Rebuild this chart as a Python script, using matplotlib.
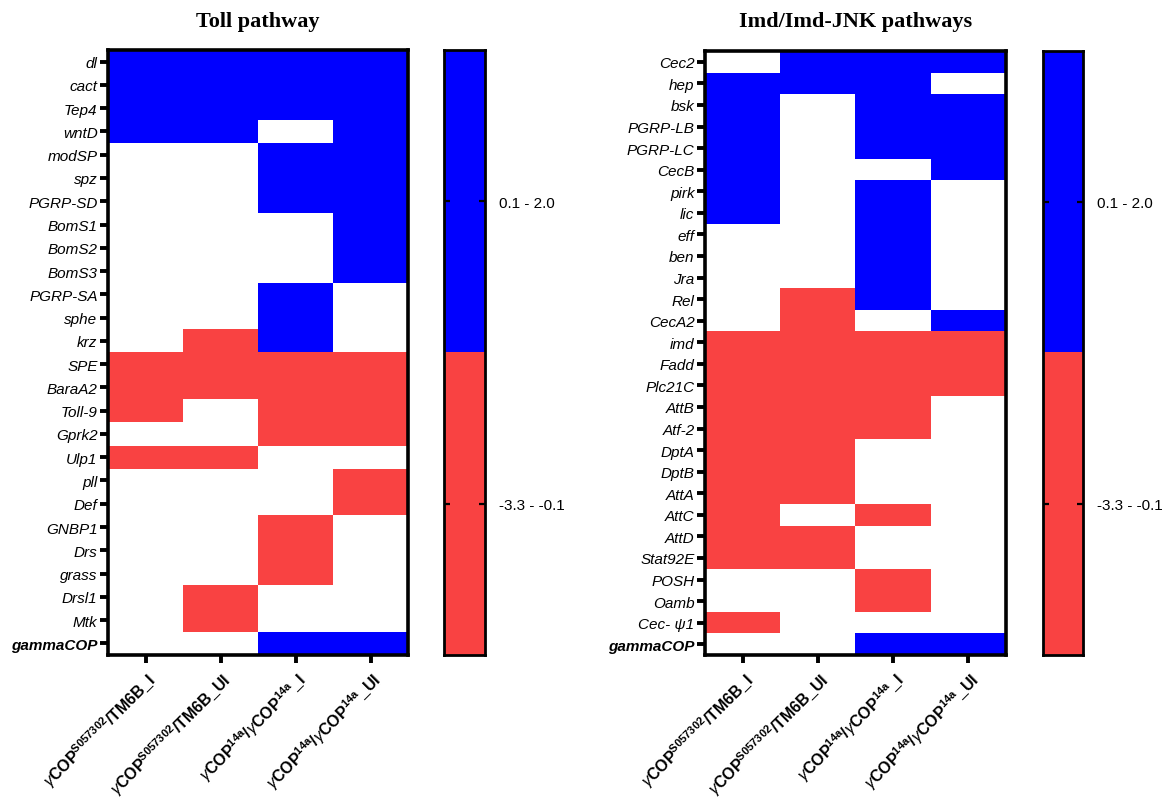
import matplotlib
matplotlib.use('Agg')
import matplotlib.pyplot as plt
import numpy as np
from matplotlib.colors import ListedColormap, BoundaryNorm

# ---------------- data ----------------
conditions = [
    r'$\gamma\mathbf{COP}^{\mathbf{S057302}}$/TM6B_I',
    r'$\gamma\mathbf{COP}^{\mathbf{S057302}}$/TM6B_UI',
    r'$\gamma\mathbf{COP}^{\mathbf{14a}}$/$\gamma\mathbf{COP}^{\mathbf{14a}}$_I',
    r'$\gamma\mathbf{COP}^{\mathbf{14a}}$/$\gamma\mathbf{COP}^{\mathbf{14a}}$_UI',
]

# 1 = up (0.1 - 2.0), -1 = down (-3.3 - -0.1), 0 = not changed
toll_genes = ['dl', 'cact', 'Tep4', 'wntD', 'modSP', 'spz', 'PGRP-SD', 'BomS1',
              'BomS2', 'BomS3', 'PGRP-SA', 'sphe', 'krz', 'SPE', 'BaraA2', 'Toll-9',
              'Gprk2', 'Ulp1', 'pll', 'Def', 'GNBP1', 'Drs', 'grass', 'Drsl1', 'Mtk',
              'gammaCOP']
toll_values = [
    [1, 1, 1, 1],
    [1, 1, 1, 1],
    [1, 1, 1, 1],
    [1, 1, 0, 1],
    [0, 0, 1, 1],
    [0, 0, 1, 1],
    [0, 0, 1, 1],
    [0, 0, 0, 1],
    [0, 0, 0, 1],
    [0, 0, 0, 1],
    [0, 0, 1, 0],
    [0, 0, 1, 0],
    [0, -1, 1, 0],
    [-1, -1, -1, -1],
    [-1, -1, -1, -1],
    [-1, 0, -1, -1],
    [0, 0, -1, -1],
    [-1, -1, 0, 0],
    [0, 0, 0, -1],
    [0, 0, 0, -1],
    [0, 0, -1, 0],
    [0, 0, -1, 0],
    [0, 0, -1, 0],
    [0, -1, 0, 0],
    [0, -1, 0, 0],
    [0, 0, 1, 1],
]

imd_genes = ['Cec2', 'hep', 'bsk', 'PGRP-LB', 'PGRP-LC', 'CecB', 'pirk', 'lic', 'eff',
             'ben', 'Jra', 'Rel', 'CecA2', 'imd', 'Fadd', 'Plc21C', 'AttB', 'Atf-2',
             'DptA', 'DptB', 'AttA', 'AttC', 'AttD', 'Stat92E', 'POSH', 'Oamb',
             'Cec- ψ1', 'gammaCOP']
imd_values = [
    [0, 1, 1, 1],
    [1, 1, 1, 0],
    [1, 0, 1, 1],
    [1, 0, 1, 1],
    [1, 0, 1, 1],
    [1, 0, 0, 1],
    [1, 0, 1, 0],
    [1, 0, 1, 0],
    [0, 0, 1, 0],
    [0, 0, 1, 0],
    [0, 0, 1, 0],
    [0, -1, 1, 0],
    [0, -1, 0, 1],
    [-1, -1, -1, -1],
    [-1, -1, -1, -1],
    [-1, -1, -1, -1],
    [-1, -1, -1, 0],
    [-1, -1, -1, 0],
    [-1, -1, 0, 0],
    [-1, -1, 0, 0],
    [-1, -1, 0, 0],
    [-1, 0, -1, 0],
    [-1, -1, 0, 0],
    [-1, -1, 0, 0],
    [0, 0, -1, 0],
    [0, 0, -1, 0],
    [-1, 0, 0, 0],
    [0, 0, 1, 1],
]

legend_values = [1, -1]
legend_labels = ['0.1 - 2.0', '-3.3 - -0.1']
titles = ['Toll pathway', 'Imd/Imd-JNK pathways']

# ---------------- style ----------------
plt.rcParams['font.family'] = ['Liberation Sans', 'DejaVu Sans']
plt.rcParams['mathtext.fontset'] = 'custom'
plt.rcParams['mathtext.rm'] = 'Liberation Sans:bold'
plt.rcParams['mathtext.it'] = 'Liberation Sans:italic'
plt.rcParams['mathtext.bf'] = 'Liberation Sans:bold'

BLUE = '#0000FF'
RED = '#F94242'
cmap = ListedColormap([RED, 'white', BLUE])
norm = BoundaryNorm([-1.5, -0.5, 0.5, 1.5], 3)

W, H = 1164, 803
fig = plt.figure(figsize=(W / 100, H / 100), dpi=100)


def frac(x0, y0, x1, y1):
    return [x0 / W, 1 - y1 / H, (x1 - x0) / W, (y1 - y0) / H]


panels = [
    dict(genes=toll_genes, values=toll_values, ax=frac(108, 51, 408, 656),
         cax=frac(444, 51, 485, 656), title=titles[0]),
    dict(genes=imd_genes, values=imd_values, ax=frac(705, 52, 1006, 656),
         cax=frac(1043, 52, 1083, 656), title=titles[1]),
]

for p in panels:
    ax = fig.add_axes(p['ax'])
    arr = np.array(p['values'])
    ax.imshow(arr, cmap=cmap, norm=norm, aspect='auto', interpolation='nearest')
    ax.set_yticks(range(len(p['genes'])))
    ax.set_yticklabels(p['genes'], fontstyle='italic', fontsize=11)
    lbls = ax.get_yticklabels()
    lbls[-1].set_fontweight('bold')
    ax.set_xticks(range(len(conditions)))
    ax.set_xticklabels(conditions, rotation=45, ha='right', rotation_mode='anchor',
                       fontsize=11.5, fontweight='bold')
    ax.tick_params(axis='y', length=6, width=2.8, pad=1.5)
    ax.tick_params(axis='x', length=6, width=2.8, pad=4)
    for s in ax.spines.values():
        s.set_linewidth(2.6)
    bb = ax.get_position()
    fig.text((bb.x0 + bb.x1) / 2, 1 - 22 / H, p['title'], ha='center', va='center',
             fontsize=16, fontweight='bold', family='Liberation Serif')

    cax = fig.add_axes(p['cax'])
    cax.imshow(np.array(legend_values).reshape(-1, 1), cmap=cmap, norm=norm,
               aspect='auto', interpolation='nearest')
    cax.set_xticks([])
    cax.set_yticks(range(len(legend_labels)))
    cax.set_yticklabels(legend_labels, fontsize=11)
    cax.tick_params(axis='y', left=True, right=True, direction='in', length=4,
                    width=1.6, labelleft=False, labelright=True, pad=10)
    for s in cax.spines.values():
        s.set_linewidth(2)

fig.savefig('out.png', dpi=100)
